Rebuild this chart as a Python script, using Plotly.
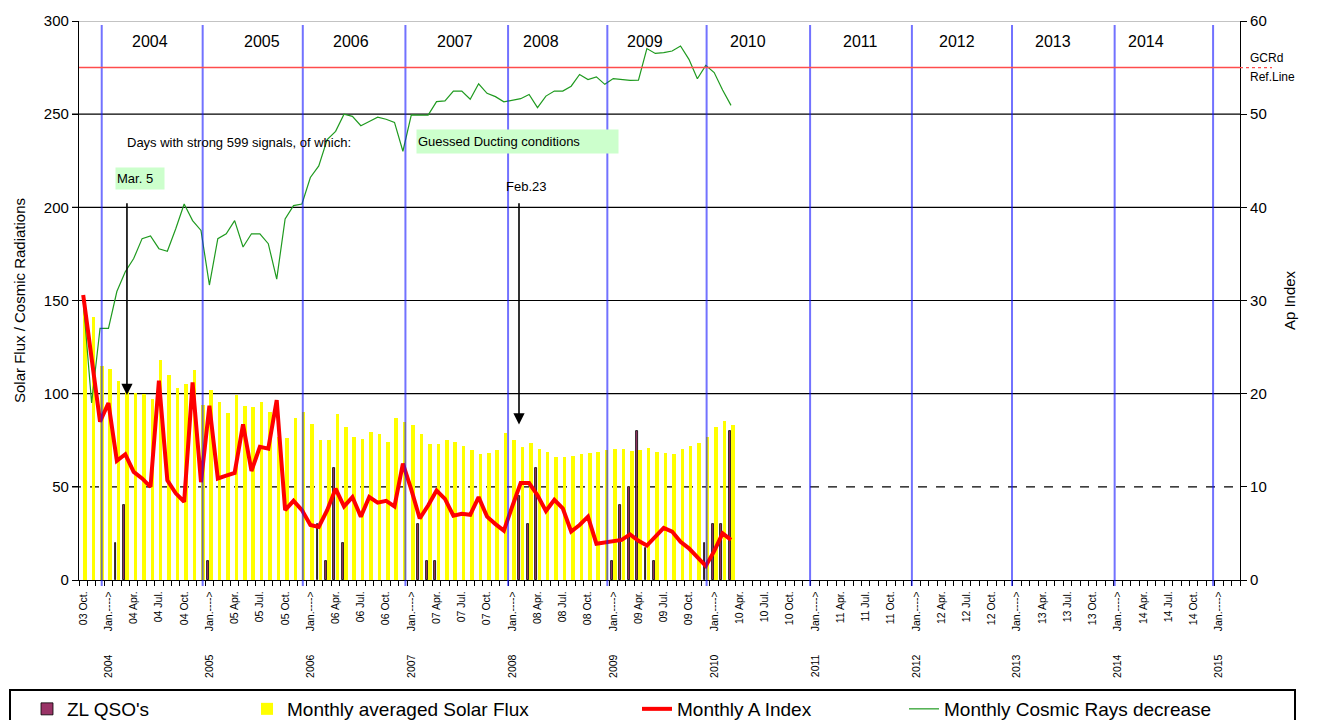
import plotly.graph_objects as go

# ---------------- data (Oct 2003 = index 0, one value per month) ----------------
SOLAR_FLUX = [145, 141, 115, 113.5, 107, 101, 100.5, 99.6, 97, 118,
              110, 103, 105, 112.5, 94, 102, 95.6, 89.5, 99.3, 93.4,
              92.9, 95.7, 90.2, 76.5, 76.2, 86.8, 90.4, 83.6, 75.3, 75.3,
              89, 82, 76.5, 75.6, 79.6, 78.1, 74.2, 87.1, 85, 83.2,
              78.1, 72.8, 72.8, 75.1, 74.2, 72.1, 69.7, 67.6, 68.3, 69.7,
              78.7, 75.1, 71.2, 73.3, 70.3, 68.8, 66.2, 65.8, 66.5, 67.6,
              68.3, 68.8, 69.7, 70.3, 70.3, 69.4, 69.7, 71, 68.8, 68.3,
              67.6, 70.3, 72.1, 73.3, 76.9, 82.3, 85.3, 83.2]

A_INDEX = [30.6, 24, 17, 19, 12.8, 13.5, 11.6, 10.9, 10, 21.4,
           10.7, 9.3, 8.4, 21.2, 10.5, 18.7, 10.9, 11.2, 11.5, 16.7,
           11.7, 14.3, 14.1, 19.3, 7.5, 8.5, 7.5, 5.9, 5.7, 7.5,
           9.8, 7.9, 8.9, 6.8, 8.9, 8.3, 8.5, 7.9, 12.5, 9.7,
           6.6, 8.0, 9.6, 8.7, 6.9, 7.1, 7.0, 8.9, 6.8, 6.0,
           5.3, 7.9, 10.4, 10.4, 9.1, 7.4, 8.6, 7.7, 5.2, 5.9,
           6.8, 3.9, 4.0, 4.1, 4.3, 4.9, 4.2, 3.7, 4.6, 5.6,
           5.2, 4.1, 3.4, 2.5, 1.5, 3.1, 5.0, 4.3]

COSMIC_RAYS = [150, 95, 135, 135, 154.8, 165.4, 172.5, 183.2, 184.6, 177.8,
               176.4, 188.5, 201.8, 192.9, 187.6, 158.3, 183.2, 185.8, 192.9, 178.7,
               185.8, 185.8, 180.5, 161.5, 193.8, 200.9, 201.8, 216, 222.2, 236.3,
               240.8, 250, 248.8, 243.8, 246.1, 248.4, 247.3, 245.6, 230.1, 249.6,
               249.5, 249.5, 256.7, 257.1, 262.4, 262.4, 258, 266.3, 261.2, 259.4,
               256.6, 257.6, 258.3, 260.6, 253.5, 259.7, 262.4, 262.4, 265, 271.3,
               268.6, 270, 266, 269.1, 268.6, 268.1, 268.3, 285.2, 282.6, 283,
               283.9, 286.6, 279.4, 269, 276.2, 272.3, 263, 254.7]

ZL_QSO = [None, None, None, None, 20, 40, None, None, None, None,
          None, None, None, None, None, 10, None, None, None, None,
          None, None, None, None, None, None, None, None, 30, 10,
          60, 20, None, None, None, None, None, None, None, None,
          30, 10, 10, None, None, None, None, None, None, None,
          None, None, 45, 30, 60, None, None, None, None, None,
          None, None, None, 10, 40, 50, 80, 17, 10, None,
          None, None, None, None, 20, 30, 30, 80]

N_CATEGORIES = 138  # Oct 2003 .. Mar 2015
GAP = "\u00a0" * 8
TICK_LABELS = ["03 Oct.",
               "2004" + GAP + "Jan.---->", "04 Apr.", "04 Jul.", "04 Oct.",
               "2005" + GAP + "Jan.---->", "05 Apr.", "05 Jul.", "05 Oct.",
               "2006" + GAP + "Jan.---->", "06 Apr.", "06 Jul.", "06 Oct.",
               "2007" + GAP + "Jan.---->", "07 Apr.", "07 Jul.", "07 Oct.",
               "2008" + GAP + "Jan.---->", "08 Apr.", "08 Jul.", "08 Oct.",
               "2009" + GAP + "Jan.---->", "09 Apr.", "09 Jul.", "09 Oct.",
               "2010" + GAP + "Jan.---->", "10 Apr.", "10 Jul.", "10 Oct.",
               "2011" + GAP + "Jan.---->", "11 Apr.", "11 Jul.", "11 Oct.",
               "2012" + GAP + "Jan.---->", "12 Apr.", "12 Jul.", "12 Oct.",
               "2013" + GAP + "Jan.---->", "13 Apr.", "13 Jul.", "13 Oct.",
               "2014" + GAP + "Jan.---->", "14 Apr.", "14 Jul.", "14 Oct.",
               "2015" + GAP + "Jan.---->"]
TICK_POS = list(range(0, 136, 3))

YEAR_LABELS = ["2004", "2005", "2006", "2007", "2008", "2009", "2010",
               "2011", "2012", "2013", "2014"]
YEAR_LABEL_POS = [7.9, 21.3, 31.8, 44.2, 54.4, 66.8, 79.0, 92.4, 103.9, 115.3, 126.3]
YEAR_LINES = [2.2, 14.2, 26.1, 38.3, 50.5, 62.3, 74.1, 86.4, 98.5, 110.4, 122.6, 134.3]
GCR_REF = 275
GRID_SOLID = [100, 150, 200, 250]
GRID_DASHED = [50]

FONT = "Arial, 'Liberation Sans', sans-serif"

# pixel helpers for the plot frame (plot area 79..1240 x 21..580)
L, R, T, B = 79, 80, 21, 140
W, H = 1320, 720
PW, PH = W - L - R, H - T - B


def px_x(p):
    return (p - L) / PW


def px_y(p):
    return (H - B - p) / PH


idx = list(range(len(SOLAR_FLUX)))

fig = go.Figure()
fig.add_trace(go.Bar(
    x=idx, y=ZL_QSO, name="ZL QSO's", offset=-0.27, width=0.22,
    marker=dict(color="#993366", line=dict(color="black", width=0.8)),
    legend="legend", showlegend=True))
fig.add_trace(go.Bar(
    x=idx, y=SOLAR_FLUX, name="Monthly averaged Solar Flux", offset=0.0, width=0.42,
    marker=dict(color="#ffff00", line=dict(width=0)), legend="legend2", showlegend=True))
fig.add_trace(go.Scatter(
    x=idx, y=COSMIC_RAYS, name="Monthly Cosmic Rays decrease", mode="lines",
    line=dict(color="#1f9a1f", width=1.2), legend="legend4", showlegend=True))
fig.add_trace(go.Scatter(
    x=idx, y=A_INDEX, name="Monthly A Index", mode="lines", yaxis="y2",
    line=dict(color="#ff0000", width=4), legend="legend3", showlegend=True))

shapes = []
for g in GRID_SOLID:
    shapes.append(dict(type="line", xref="paper", yref="y", x0=-0.006, x1=1, y0=g, y1=g,
                       line=dict(color="black", width=1.2), layer="below"))
for g in GRID_DASHED:
    shapes.append(dict(type="line", xref="paper", yref="y", x0=-0.006, x1=1, y0=g, y1=g,
                       line=dict(color="black", width=1.2, dash="dash"), layer="below"))
shapes.append(dict(type="line", xref="paper", yref="y", x0=0, x1=1, y0=300, y1=300,
                   line=dict(color="#888888", width=1.2)))
for xl in YEAR_LINES:
    shapes.append(dict(type="line", xref="x", yref="paper", x0=xl, x1=xl,
                       y0=px_y(586), y1=px_y(25),
                       line=dict(color="rgba(20,20,255,0.6)", width=2)))
shapes.append(dict(type="line", xref="paper", yref="y", x0=0, x1=1, y0=GCR_REF, y1=GCR_REF,
                   line=dict(color="#ff4d4d", width=1.5)))
shapes.append(dict(type="line", xref="paper", yref="y", x0=1, x1=px_x(1272), y0=GCR_REF, y1=GCR_REF,
                   line=dict(color="#ff4d4d", width=1.2, dash="dot")))
# legend frame
shapes.append(dict(type="rect", xref="paper", yref="paper", x0=px_x(10), x1=px_x(1295),
                   y0=px_y(690), y1=px_y(745), line=dict(color="black", width=2),
                   fillcolor="rgba(0,0,0,0)"))

annotations = []
for lab, pos in zip(YEAR_LABELS, YEAR_LABEL_POS):
    annotations.append(dict(x=pos, xref="x", y=px_y(41), yref="paper", yanchor="middle",
                            text=lab, showarrow=False,
                            font=dict(size=16, color="black", family=FONT)))
annotations.append(dict(x=px_x(125), y=px_y(142), xref="paper", yref="paper",
                        xanchor="left", yanchor="middle", showarrow=False,
                        text="Days with strong 599 signals, of which:",
                        font=dict(size=13, color="black", family=FONT)))
annotations.append(dict(x=px_x(416), y=px_y(141.5), xref="paper", yref="paper",
                        xanchor="left", yanchor="middle", showarrow=False,
                        text="Guessed Ducting conditions", align="left",
                        width=199, height=21, borderpad=1, bgcolor="#ccffcc",
                        font=dict(size=13, color="black", family=FONT)))
annotations.append(dict(x=px_x(115), y=px_y(178.5), xref="paper", yref="paper",
                        xanchor="left", yanchor="middle", showarrow=False,
                        text="Mar. 5", align="left",
                        width=46, height=19, borderpad=1, bgcolor="#ccffcc",
                        font=dict(size=13, color="black", family=FONT)))
annotations.append(dict(x=px_x(526), y=px_y(186), xref="paper", yref="paper", yanchor="middle",
                        showarrow=False, text="Feb.23",
                        font=dict(size=13, color="black", family=FONT)))
# arrows
annotations.append(dict(x=5.2, y=99.3, xref="x", yref="y", ax=5.2, ay=203, axref="x", ayref="y",
                        text="", showarrow=True, arrowhead=2, arrowsize=1.4, arrowwidth=1.6,
                        arrowcolor="black"))
annotations.append(dict(x=51.8, y=83.5, xref="x", yref="y", ax=51.8, ay=203, axref="x", ayref="y",
                        text="", showarrow=True, arrowhead=2, arrowsize=1.4, arrowwidth=1.6,
                        arrowcolor="black"))
annotations.append(dict(x=px_x(1248), y=px_y(58), xref="paper", yref="paper", xanchor="left",
                        yanchor="middle", showarrow=False, text="GCRd",
                        font=dict(size=12, color="black", family=FONT)))
annotations.append(dict(x=px_x(1248), y=px_y(77), xref="paper", yref="paper", xanchor="left",
                        yanchor="middle", showarrow=False, text="Ref.Line",
                        font=dict(size=12, color="black", family=FONT)))

leg_common = dict(orientation="h", xanchor="left", yanchor="middle",
                  xref="container", yref="container", y=(H - 709) / H,
                  bgcolor="rgba(0,0,0,0)", borderwidth=0, itemwidth=30,
                  font=dict(size=19, color="black", family=FONT))

fig.update_layout(
    width=W, height=H, autosize=False, showlegend=True,
    margin=dict(l=L, r=R, t=T, b=B, pad=0, autoexpand=False),
    paper_bgcolor="white", plot_bgcolor="white",
    barmode="overlay", bargap=0,
    font=dict(family=FONT, color="black"),
    xaxis=dict(range=[-0.5, N_CATEGORIES - 0.5], tickmode="array", tickvals=TICK_POS,
               ticktext=TICK_LABELS, tickangle=-90, tickfont=dict(size=10.5, color="black"),
               ticks="", showgrid=False, zeroline=False, showline=True, linecolor="black",
               linewidth=1.2, ticklabelstandoff=6,
               minor=dict(tickmode="linear", tick0=-0.5, dtick=1, ticks="outside",
                          ticklen=5, tickcolor="black", tickwidth=1, showgrid=False)),
    yaxis=dict(range=[0, 300], dtick=50, tick0=0, showgrid=False, zeroline=False,
               showline=True, linecolor="black", linewidth=1.2, ticks="outside", ticklen=6,
               tickcolor="black", tickfont=dict(size=15, color="black"),
               title=dict(text="Solar Flux / Cosmic Radiations", font=dict(size=15), standoff=14)),
    yaxis2=dict(range=[0, 60], dtick=10, tick0=0, overlaying="y", side="right",
                showgrid=False, zeroline=False, showline=True, linecolor="black", linewidth=1.2,
                ticks="outside", ticklen=6, tickcolor="black", tickfont=dict(size=15, color="black"),
                title=dict(text="Ap Index", font=dict(size=15), standoff=18)),
    legend=dict(leg_common, x=27 / W),
    legend2=dict(leg_common, x=247 / W),
    legend3=dict(leg_common, x=637 / W),
    legend4=dict(leg_common, x=904 / W),
    shapes=shapes, annotations=annotations,
)

fig.write_html("out.html", include_plotlyjs=True, config={"displayModeBar": False},
               post_script="document.body.style.margin='0';document.body.style.overflow='hidden';")
